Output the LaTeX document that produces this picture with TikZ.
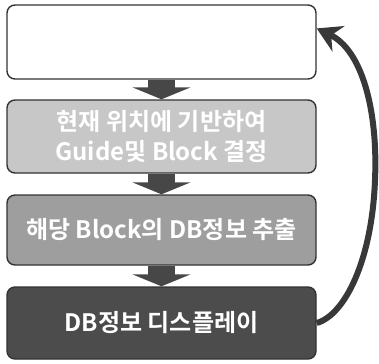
\documentclass[tikz,border=0pt]{standalone}
\usepackage{fontspec}
\newfontfamily\kr{Noto Sans CJK KR Bold}
\usetikzlibrary{arrows.meta}
\tikzset{
  stepbox/.style={draw=black!80, line width=1.4pt, rounded corners=8pt, minimum width=309pt, inner sep=0pt,
    font=\kr\fontsize{24}{30}\selectfont, text=white, align=center},
  blockarrow/.style={draw=black!72, line width=27pt, line cap=butt,
    -{Triangle[length=12pt,width=58pt]}},
  loop/.style={draw=black!78, line width=6pt, -{Stealth[length=24pt,width=28pt,inset=8pt]}}
}
\begin{document}
\begin{tikzpicture}[x=1pt,y=-1pt]
\useasboundingbox (0,0) rectangle (379,363);
\node[stepbox, fill=white, minimum height=74pt] (n1) at (161.5,42) {};
\node[stepbox, fill=black!22, minimum height=73pt] (n2) at (161.5,136.5) {현재 위치에 기반하여\\Guide및 Block 결정};
\node[stepbox, fill=black!38, minimum height=70pt] (n3) at (161.5,230) {해당 Block의 DB정보 추출};
\node[stepbox, fill=black!70, minimum height=72pt] (n4) at (161.5,323) {DB정보 디스플레이};
\draw[blockarrow] (n1.south) -- (n2.north);
\draw[blockarrow] (n2.south) -- (n3.north);
\draw[blockarrow] (n3.south) -- (n4.north);
\draw[loop] (n4.east) .. controls (345,315) and (372,260) .. (375,180)
  .. controls (378,110) and (362,50) .. (n1.5);
\end{tikzpicture}
\end{document}
